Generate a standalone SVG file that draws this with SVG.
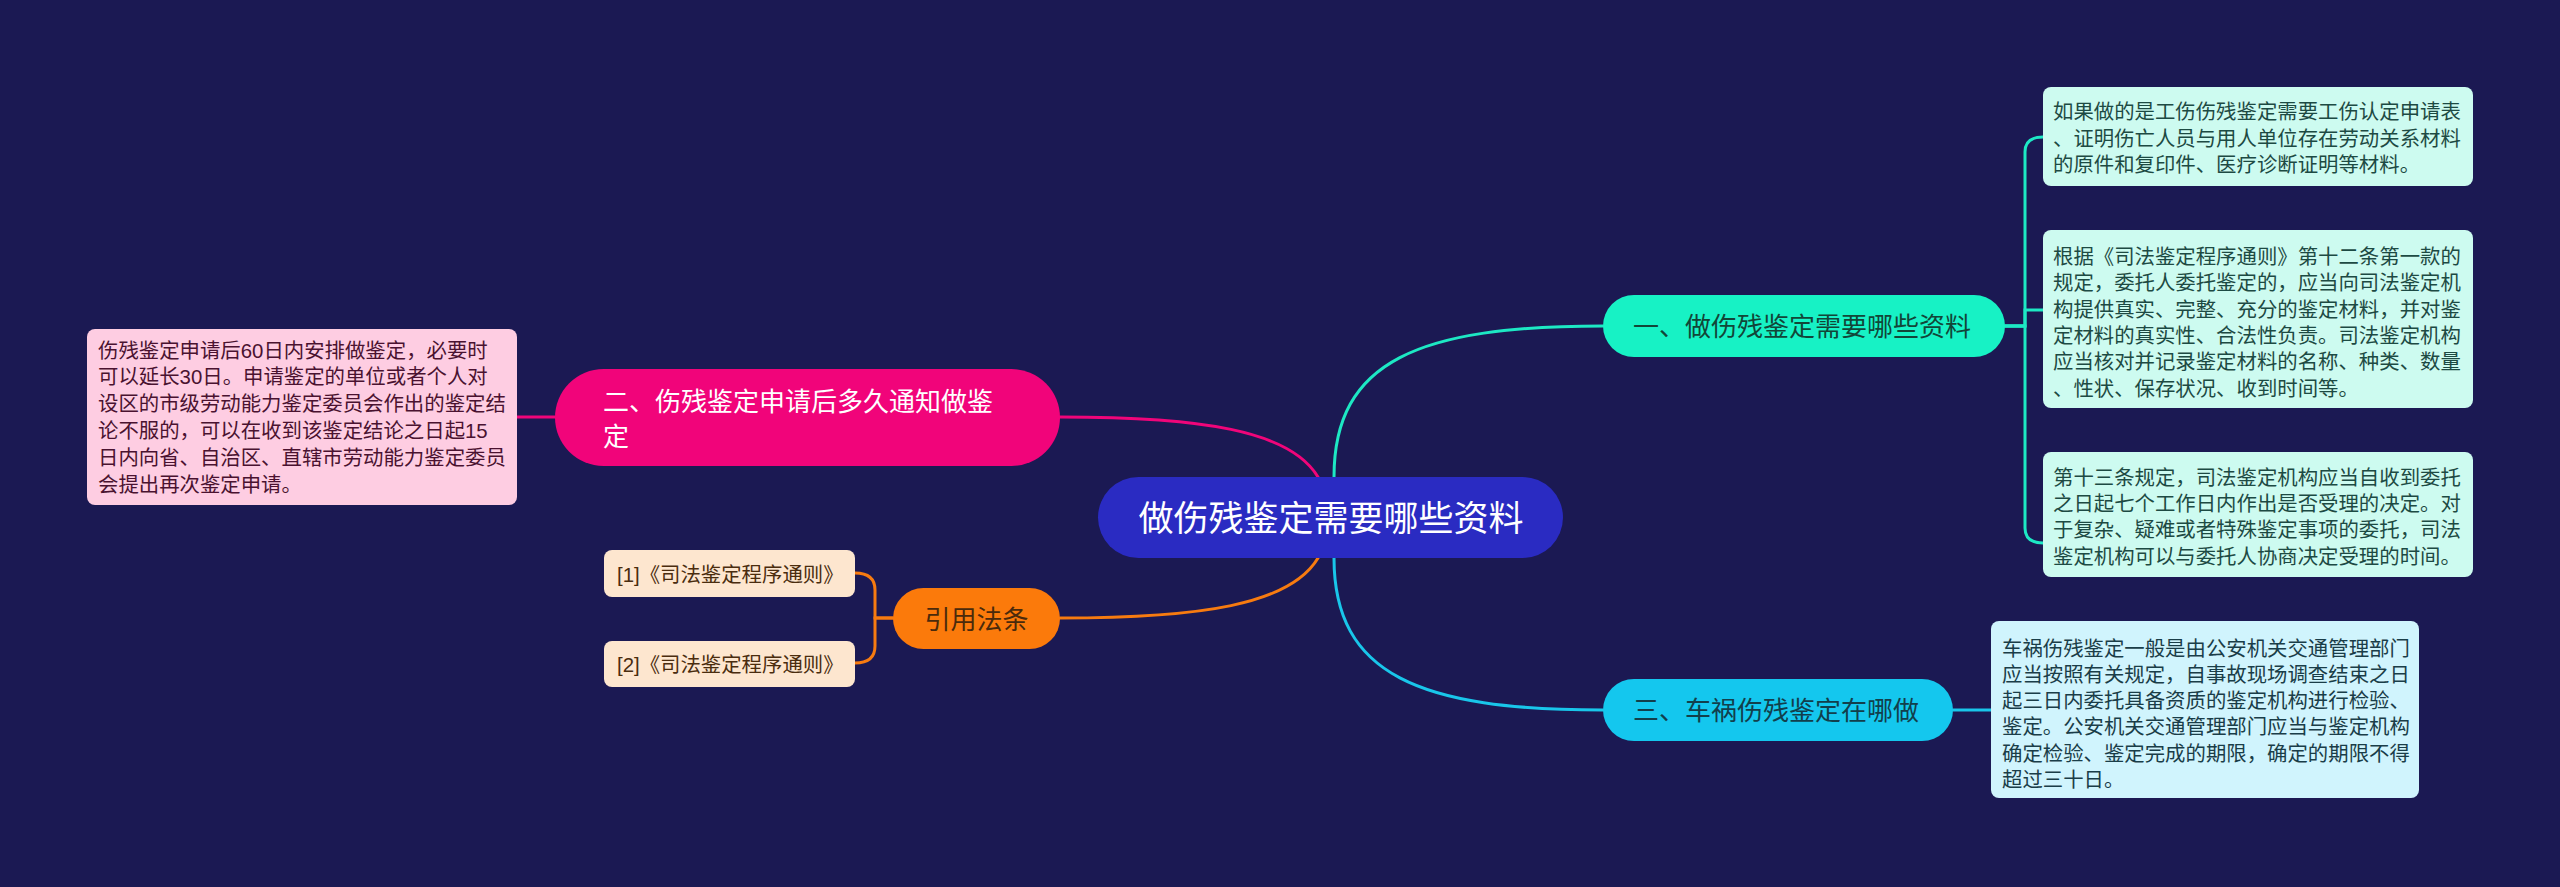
<svg xmlns="http://www.w3.org/2000/svg" width="2560" height="887" viewBox="0 0 2560 887">
<style>
text { font-family: "Liberation Sans", "Noto Sans CJK SC", sans-serif; }
.conn { fill: none; stroke-width: 3; stroke-linecap: round; }
.leaf { font-size: 20.4px; }
.lg { fill: #cdfbf0; }
.lgt { fill: #1d4a43; }
</style>
<rect x="0" y="0" width="2560" height="887" fill="#1b1953"/>
<g id="connectors">
  <path class="conn" stroke="#1de8c4" d="M1334 477 C1334 360 1420 326 1603 326"/>
  <path class="conn" stroke="#f0057a" d="M1318 477 C1290 430 1200 417 1060 417"/>
  <path class="conn" stroke="#f77b10" d="M1318 558 C1290 605 1200 618 1060 618"/>
  <path class="conn" stroke="#19c6ea" d="M1334 558 C1334 675 1420 710 1603 710"/>
  <path class="conn" stroke="#1de8c4" d="M2005 326 H2025 V152 Q2025 137 2043 137"/>
  <path class="conn" stroke="#1de8c4" d="M2005 326 H2025 V310 H2043"/>
  <path class="conn" stroke="#1de8c4" d="M2005 326 H2025 V528 Q2025 543 2043 543"/>
  <path class="conn" stroke="#19c6ea" d="M1953 710 H1991"/>
  <path class="conn" stroke="#f0057a" d="M555 417 H517"/>
  <path class="conn" stroke="#f77b10" d="M893 618 H875 V590 Q875 573 855 573"/>
  <path class="conn" stroke="#f77b10" d="M893 618 H875 V646 Q875 663 855 663"/>
</g>
<g id="root">
  <rect x="1098" y="477" width="465" height="81" rx="40.5" fill="#2a2bc2"/>
  <text x="1331" y="531" font-size="35" fill="#ffffff" text-anchor="middle">做伤残鉴定需要哪些资料</text>
</g>
<g id="branch1">
  <rect x="1603" y="295" width="402" height="62" rx="31" fill="#17f2c5"/>
  <text x="1633" y="336" font-size="26" fill="#124638">一、做伤残鉴定需要哪些资料</text>
</g>
<g id="branch2">
  <rect x="555" y="369" width="505" height="97" rx="48.5" fill="#f1047a"/>
  <text font-size="26" fill="#ffffff"><tspan x="603" y="410.5">二、伤残鉴定申请后多久通知做鉴</tspan><tspan x="603" y="446">定</tspan></text>
</g>
<g id="branch3">
  <rect x="1603" y="679" width="350" height="62" rx="31" fill="#14c7ee"/>
  <text x="1633" y="720" font-size="26" fill="#123f4c">三、车祸伤残鉴定在哪做</text>
</g>
<g id="cite">
  <rect x="893" y="588" width="167" height="61" rx="30.5" fill="#fb7a0b"/>
  <text x="976.5" y="628.5" font-size="26" fill="#4a2a0c" text-anchor="middle">引用法条</text>
</g>
<g id="leaf1">
  <rect class="lg" x="2043" y="87" width="430" height="99" rx="8"/>
  <text class="leaf lgt"><tspan x="2053" y="119">如果做的是工伤伤残鉴定需要工伤认定申请表</tspan><tspan x="2053" y="145.5">、证明伤亡人员与用人单位存在劳动关系材料</tspan><tspan x="2053" y="172">的原件和复印件、医疗诊断证明等材料。</tspan></text>
</g>
<g id="leaf2">
  <rect class="lg" x="2043" y="230" width="430" height="178" rx="8"/>
  <text class="leaf lgt"><tspan x="2053" y="264">根据《司法鉴定程序通则》第十二条第一款的</tspan><tspan x="2053" y="290.3">规定，委托人委托鉴定的，应当向司法鉴定机</tspan><tspan x="2053" y="316.6">构提供真实、完整、充分的鉴定材料，并对鉴</tspan><tspan x="2053" y="342.9">定材料的真实性、合法性负责。司法鉴定机构</tspan><tspan x="2053" y="369.2">应当核对并记录鉴定材料的名称、种类、数量</tspan><tspan x="2053" y="395.5">、性状、保存状况、收到时间等。</tspan></text>
</g>
<g id="leaf3">
  <rect class="lg" x="2043" y="452" width="430" height="125" rx="8"/>
  <text class="leaf lgt"><tspan x="2053" y="485">第十三条规定，司法鉴定机构应当自收到委托</tspan><tspan x="2053" y="511.2">之日起七个工作日内作出是否受理的决定。对</tspan><tspan x="2053" y="537.4">于复杂、疑难或者特殊鉴定事项的委托，司法</tspan><tspan x="2053" y="563.6">鉴定机构可以与委托人协商决定受理的时间。</tspan></text>
</g>
<g id="leaf4">
  <rect x="1991" y="621" width="428" height="177" rx="8" fill="#d0f4fd"/>
  <text class="leaf" fill="#1a3d48"><tspan x="2002" y="655.5">车祸伤残鉴定一般是由公安机关交通管理部门</tspan><tspan x="2002" y="681.8">应当按照有关规定，自事故现场调查结束之日</tspan><tspan x="2002" y="708.1">起三日内委托具备资质的鉴定机构进行检验、</tspan><tspan x="2002" y="734.4">鉴定。公安机关交通管理部门应当与鉴定机构</tspan><tspan x="2002" y="760.7">确定检验、鉴定完成的期限，确定的期限不得</tspan><tspan x="2002" y="787">超过三十日。</tspan></text>
</g>
<g id="leaf5">
  <rect x="87" y="329" width="430" height="176" rx="8" fill="#fecde2"/>
  <text class="leaf" fill="#4a1230"><tspan x="98" y="357.5">伤残鉴定申请后60日内安排做鉴定，必要时</tspan><tspan x="98" y="384.3">可以延长30日。申请鉴定的单位或者个人对</tspan><tspan x="98" y="411.1">设区的市级劳动能力鉴定委员会作出的鉴定结</tspan><tspan x="98" y="437.9">论不服的，可以在收到该鉴定结论之日起15</tspan><tspan x="98" y="464.7">日内向省、自治区、直辖市劳动能力鉴定委员</tspan><tspan x="98" y="491.5">会提出再次鉴定申请。</tspan></text>
</g>
<g id="leaf6">
  <rect x="604" y="550" width="251" height="47" rx="8" fill="#fde6cf"/>
  <text class="leaf" x="617" y="581.5" fill="#4a2c0e">[1]《司法鉴定程序通则》</text>
</g>
<g id="leaf7">
  <rect x="604" y="641" width="251" height="46" rx="8" fill="#fde6cf"/>
  <text class="leaf" x="617" y="672" fill="#4a2c0e">[2]《司法鉴定程序通则》</text>
</g>
</svg>
